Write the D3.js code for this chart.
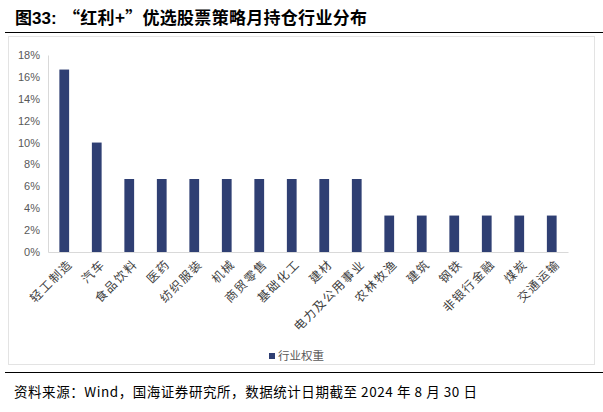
<!DOCTYPE html>
<html><head><meta charset="utf-8">
<script src="https://cdn.jsdelivr.net/npm/d3@7"></script>
<style>body{margin:0;background:#fff;}svg{display:block;}</style>
</head><body><svg id="c" width="603" height="412"></svg>
<script>
const categories=["轻工制造","汽车","食品饮料","医药","纺织服装","机械","商贸零售","基础化工","建材","电力及公用事业","农林牧渔","建筑","钢铁","非银行金融","煤炭","交通运输"];
const values=[16.67,10,6.67,6.67,6.67,6.67,6.67,6.67,6.67,6.67,3.33,3.33,3.33,3.33,3.33,3.33];
const yTicks=[0,2,4,6,8,10,12,14,16,18];
const seriesName="行业权重";
const font="'Noto Sans CJK SC','Noto Sans',sans-serif";
const latin="'Liberation Sans',Arial,sans-serif";
const svg=d3.select("#c");
svg.append("text").attr("x",15).attr("y",24).attr("font-family",latin).attr("font-size",17).attr("font-weight","bold").attr("fill","#000")
 .call(t=>{t.append("tspan").attr("font-family",font).text("图");t.append("tspan").text("33:");});
svg.append("text").attr("x",63).attr("y",24).attr("font-family",font).attr("font-size",17).attr("font-weight","bold").attr("fill","#000")
 .attr("textLength",304).attr("lengthAdjust","spacing").text("“红利+”优选股票策略月持仓行业分布");
svg.append("line").attr("x1",5).attr("x2",603).attr("y1",32.5).attr("y2",32.5).attr("stroke","#000").attr("stroke-width",1.2);
svg.append("rect").attr("x",8.5).attr("y",36.5).attr("width",586).attr("height",328).attr("fill","none").attr("stroke","#e3e3e3");
svg.append("line").attr("x1",5).attr("x2",603).attr("y1",372.5).attr("y2",372.5).attr("stroke","#000").attr("stroke-width",1.2);
svg.append("text").attr("x",14).attr("y",397).attr("font-family",font).attr("font-size",13.5).attr("fill","#000")
 .attr("textLength",463).attr("lengthAdjust","spacing").text("资料来源：Wind，国海证券研究所，数据统计日期截至 2024 年 8 月 30 日");
const x=d3.scaleBand().domain(categories).range([48,568]).paddingInner(0.7).paddingOuter(0.35);
const y=d3.scaleLinear().domain([0,18]).range([252,55]);
const gy=svg.append("g").attr("transform","translate(48,0)").call(d3.axisLeft(y).tickValues(yTicks).tickFormat(d=>d+"%").tickSize(0).tickPadding(8));
gy.select(".domain").attr("stroke","#d9d9d9");
gy.selectAll("text").attr("font-family",latin).attr("font-size",11).attr("fill","#595959");
svg.append("g").selectAll("rect").data(values).join("rect")
 .attr("x",(d,i)=>x(categories[i])).attr("width",x.bandwidth())
 .attr("y",d=>y(d)).attr("height",d=>y(0)-y(d)).attr("fill","#2f3f73");
const gx=svg.append("g").attr("transform","translate(0,252)").call(d3.axisBottom(x).tickSize(0).tickPadding(0));
gx.select(".domain").attr("stroke","#d9d9d9");
gx.selectAll("text").attr("font-family",font).attr("font-size",12).attr("letter-spacing","1.5px").attr("fill","#404040")
 .attr("text-anchor","end").attr("dy","0").attr("transform","translate(9,13) rotate(-45)");
svg.append("rect").attr("x",269).attr("y",353).attr("width",6).attr("height",6).attr("fill","#2f3f73");
svg.append("text").attr("x",278).attr("y",360).attr("font-family",font).attr("font-size",11.5).attr("fill","#595959").text(seriesName);
</script></body></html>
